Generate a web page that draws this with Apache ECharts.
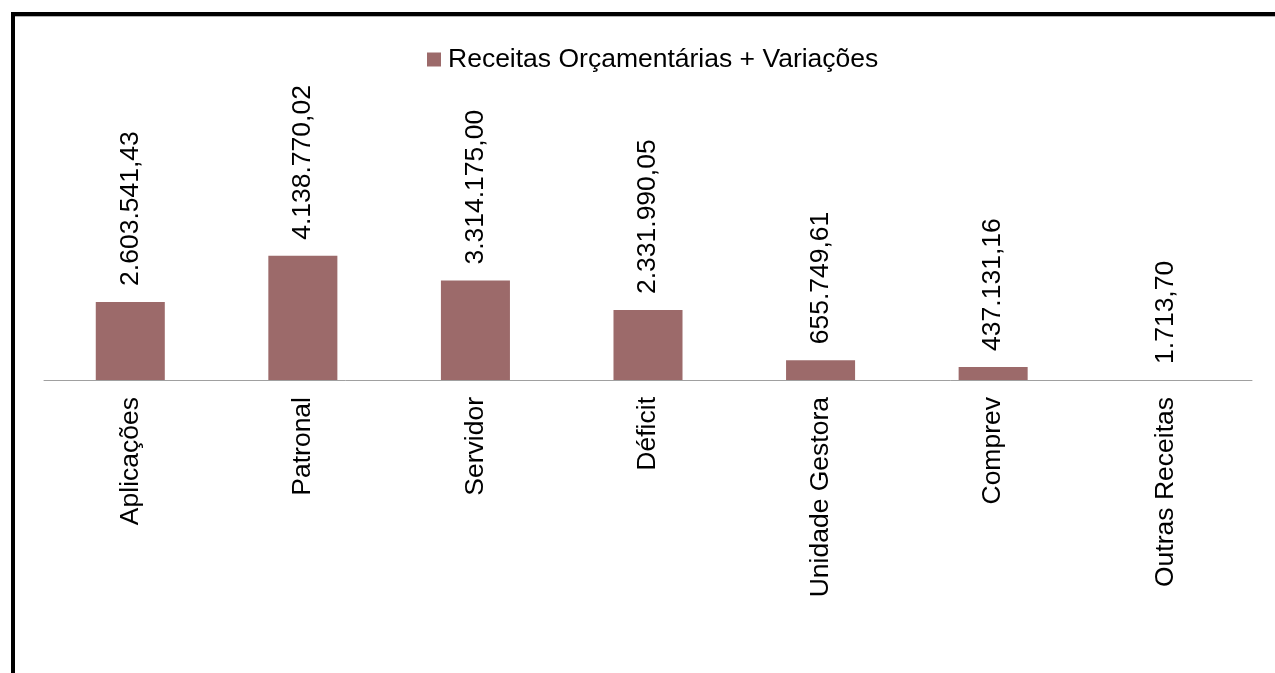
<!DOCTYPE html>
<html>
<head>
<meta charset="utf-8">
<script src="https://cdn.jsdelivr.net/npm/echarts@6/dist/echarts.min.js"></script>
<style>
    html, body { margin: 0; padding: 0; background: #fff; }
    #box1 { width: 1275px; height: 673px; }
</style>
</head>
<body>
<div id="box1"></div>
<script>
let categories = ['Aplicações', 'Patronal', 'Servidor', 'Déficit', 'Unidade Gestora', 'Comprev', 'Outras Receitas'];
let receitas = [2603541.43, 4138770.02, 3314175.00, 2331990.05, 655749.61, 437131.16, 1713.70];
let seriesName = 'Receitas Orçamentárias + Variações';

// formato brasileiro: 1.234.567,89
function fmtBR(v) {
    let parts = v.toFixed(2).split('.');
    let inteiro = parts[0].replace(/\B(?=(\d{3})+(?!\d))/g, '.');
    return inteiro + ',' + parts[1];
}

let box1 = document.querySelector('#box1');
let myChart1 = echarts.init(box1);
let fonte = 'Liberation Sans, Arial, sans-serif';
let option1 = {
    animation: false,
    legend: {
        left: 422,
        top: 41,
        itemWidth: 14,
        itemHeight: 14,
        icon: 'rect',
        textStyle: {
            color: '#000',
            fontSize: 26.5,
            fontFamily: fonte,
            padding: [0, 0, 0, 2]
        },
        data: [seriesName]
    },
    grid: {
        left: 44,
        right: 23,
        top: 80,
        bottom: 293,
        containLabel: false
    },
    xAxis: {
        type: 'category',
        data: categories,
        axisLine: { lineStyle: { color: '#a0a0a0', width: 1 } },
        axisTick: { show: false },
        axisLabel: {
            rotate: 90,
            margin: 17,
            color: '#000',
            fontSize: 26.5,
            fontFamily: fonte
        }
    },
    yAxis: {
        type: 'value',
        min: 0,
        max: 10000000,
        show: false,
        splitLine: { show: false }
    },
    series: [
        {
            name: seriesName,
            type: 'bar',
            barWidth: '40%',
            itemStyle: { color: '#9c6a6a' },
            label: {
                show: true,
                position: 'top',
                rotate: 90,
                align: 'left',
                verticalAlign: 'middle',
                distance: 16,
                color: '#000',
                fontSize: 26.5,
                fontFamily: fonte,
                formatter: function (p) { return fmtBR(p.value); }
            },
            data: receitas
        }
    ],
    graphic: [
        // moldura preta (topo e lado esquerdo)
        { type: 'rect', shape: { x: 11, y: 12, width: 1264, height: 4 }, style: { fill: '#000' } },
        { type: 'rect', shape: { x: 11, y: 16, width: 1264, height: 1 }, style: { fill: '#b0b0b0' } },
        { type: 'rect', shape: { x: 11, y: 12, width: 4, height: 661 }, style: { fill: '#000' } }
    ]
};
myChart1.setOption(option1);
</script>
</body>
</html>
